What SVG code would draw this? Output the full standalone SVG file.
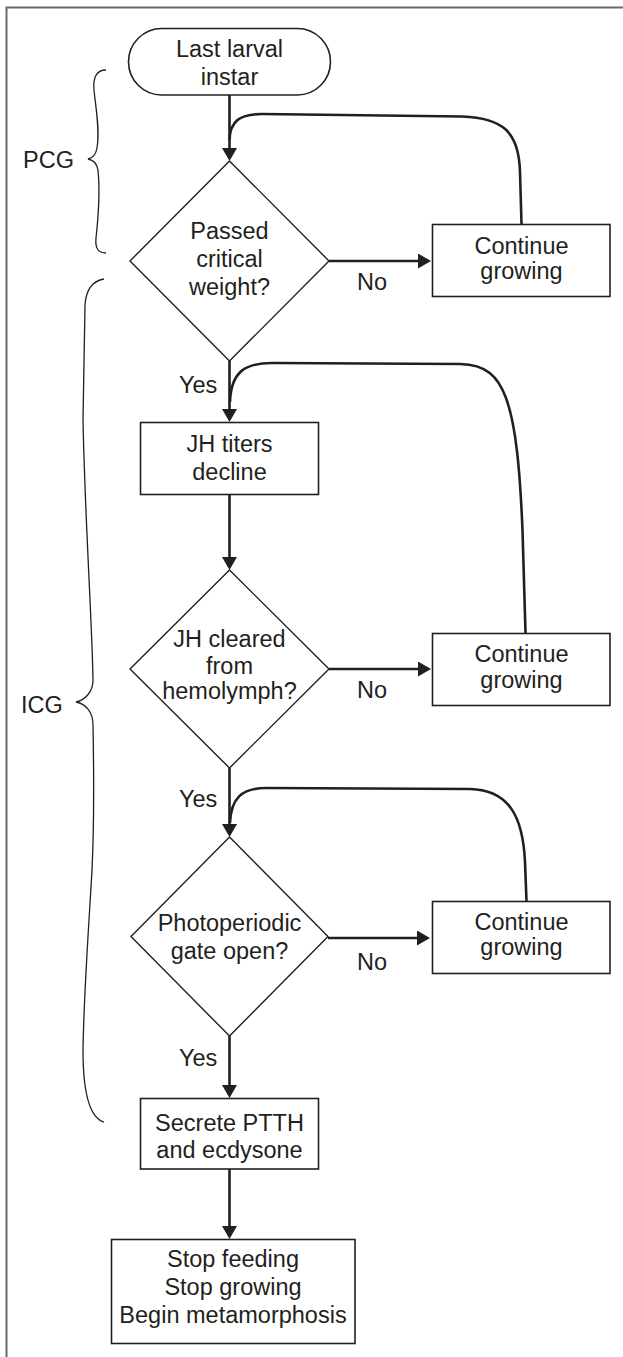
<svg xmlns="http://www.w3.org/2000/svg" width="623" height="1357" viewBox="0 0 623 1357">
<style>
text{font-family:"Liberation Sans",Arial,sans-serif;font-size:23.5px;fill:#231f20}
.c{text-anchor:middle}
.box{fill:#fff;stroke:#231f20;stroke-width:1.6}
.dia{fill:#fff;stroke:#231f20;stroke-width:1.4}
.con{fill:none;stroke:#231f20;stroke-width:2.6}
.brace{fill:none;stroke:#231f20;stroke-width:1.3}
.frame{fill:none;stroke:#6a6a6a;stroke-width:2}
</style>
<defs>
<marker id="ah" viewBox="0 0 13 15" refX="3" refY="7.5" markerWidth="13" markerHeight="15" markerUnits="userSpaceOnUse" orient="auto">
<path d="M0,0 L13,7.5 L0,15 Z" fill="#231f20"/>
</marker>
</defs>
<rect width="623" height="1357" fill="#fff"/>
<path class="frame" d="M6.5,1357 L6.5,7.5 L623,7.5"/>

<g id="connectors">
<line class="con" x1="229.5" y1="95" x2="229.5" y2="151" marker-end="url(#ah)"/>
<path class="con" d="M521.5,224 L520,172 C519,132 503,118 462,116.5 L262,114 C240,114 230,121 229.5,140"/>
<line class="con" x1="329" y1="261" x2="421" y2="261" marker-end="url(#ah)"/>
<line class="con" x1="229.5" y1="361" x2="229.5" y2="412" marker-end="url(#ah)"/>
<path class="con" d="M525.5,633 L522.5,530 C520,470 516,425 506,398 C498,376 486,364.5 460,364 L272,363 C246,363 231,371 230,402"/>
<line class="con" x1="329" y1="669" x2="421" y2="669" marker-end="url(#ah)"/>
<line class="con" x1="229.5" y1="494" x2="229.5" y2="560" marker-end="url(#ah)"/>
<line class="con" x1="229.5" y1="768" x2="229.5" y2="827" marker-end="url(#ah)"/>
<path class="con" d="M526.5,901 L525,862 C523,818 510,790 470,789 L266,788 C242,788 231,798 230,823"/>
<line class="con" x1="328" y1="938" x2="420" y2="938" marker-end="url(#ah)"/>
<line class="con" x1="229.5" y1="1036" x2="229.5" y2="1088" marker-end="url(#ah)"/>
<line class="con" x1="229.5" y1="1169" x2="229.5" y2="1229" marker-end="url(#ah)"/>
</g>

<g id="labels">
<text x="179" y="393">Yes</text>
<text x="357" y="290">No</text>
<text x="179" y="806.5">Yes</text>
<text x="357" y="698">No</text>
<text x="179" y="1065.5">Yes</text>
<text x="357" y="970">No</text>
</g>

<g id="pcg">
<path class="brace" d="M106,70 C96,70 93,78 94,90 C96,110 100,130 97,148 C96,154 93,158 88,159 C93,160 97,163 98,170 C100,190 98,220 96,238 C95,248 98,253 106,253"/>
<text x="23" y="168">PCG</text>
</g>

<g id="icg">
<path class="brace" d="M104,279 C92,281 86,290 85,305 L83,420 C85,520 92,620 93,680 C93,692 85,700 76,702 C86,704 93,712 93,725 C94,780 94,830 92,870 C88,940 84,990 83,1050 C83,1095 90,1118 104,1122"/>
<text x="21" y="713">ICG</text>
</g>

<g id="start">
<rect class="box" x="128.5" y="28.5" width="202" height="66.5" rx="33.25"/>
<text class="c" x="229.5" y="57">Last larval</text>
<text class="c" x="229.5" y="85">instar</text>
</g>

<g id="d1">
<polygon class="dia" points="229.5,161 329,261 229.5,361 130,261"/>
<text class="c" x="229.5" y="239">Passed</text>
<text class="c" x="229.5" y="267">critical</text>
<text class="c" x="229.5" y="295">weight?</text>
</g>

<g id="cg1">
<rect class="box" x="432.5" y="224.5" width="177.5" height="72"/>
<text class="c" x="521.5" y="254">Continue</text>
<text class="c" x="521.5" y="279">growing</text>
</g>

<g id="jh">
<rect class="box" x="140.5" y="422.5" width="178" height="72"/>
<text class="c" x="229.5" y="451.5">JH titers</text>
<text class="c" x="229.5" y="480">decline</text>
</g>

<g id="d2">
<polygon class="dia" points="229.5,570 329,669 229.5,768 130,669"/>
<text class="c" x="229.5" y="646.5">JH cleared</text>
<text class="c" x="229.5" y="673.5">from</text>
<text class="c" x="229.5" y="698.5">hemolymph?</text>
</g>

<g id="cg2">
<rect class="box" x="432.5" y="633.5" width="177.5" height="72"/>
<text class="c" x="521.5" y="662">Continue</text>
<text class="c" x="521.5" y="688">growing</text>
</g>

<g id="d3">
<polygon class="dia" points="229.5,837 328,936.5 229.5,1036 131,936.5"/>
<text class="c" x="229.5" y="931">Photoperiodic</text>
<text class="c" x="229.5" y="959">gate open?</text>
</g>

<g id="cg3">
<rect class="box" x="432.5" y="901.5" width="177.5" height="72"/>
<text class="c" x="521.5" y="930">Continue</text>
<text class="c" x="521.5" y="955">growing</text>
</g>

<g id="secrete">
<rect class="box" x="140.5" y="1098.5" width="178" height="70.5"/>
<text class="c" x="229.5" y="1130.5">Secrete PTTH</text>
<text class="c" x="229.5" y="1157.5">and ecdysone</text>
</g>

<g id="stop">
<rect class="box" x="111.5" y="1239.5" width="243.5" height="104"/>
<text class="c" x="233" y="1266.5">Stop feeding</text>
<text class="c" x="233" y="1294.5">Stop growing</text>
<text class="c" x="233" y="1322.5">Begin metamorphosis</text>
</g>
</svg>
